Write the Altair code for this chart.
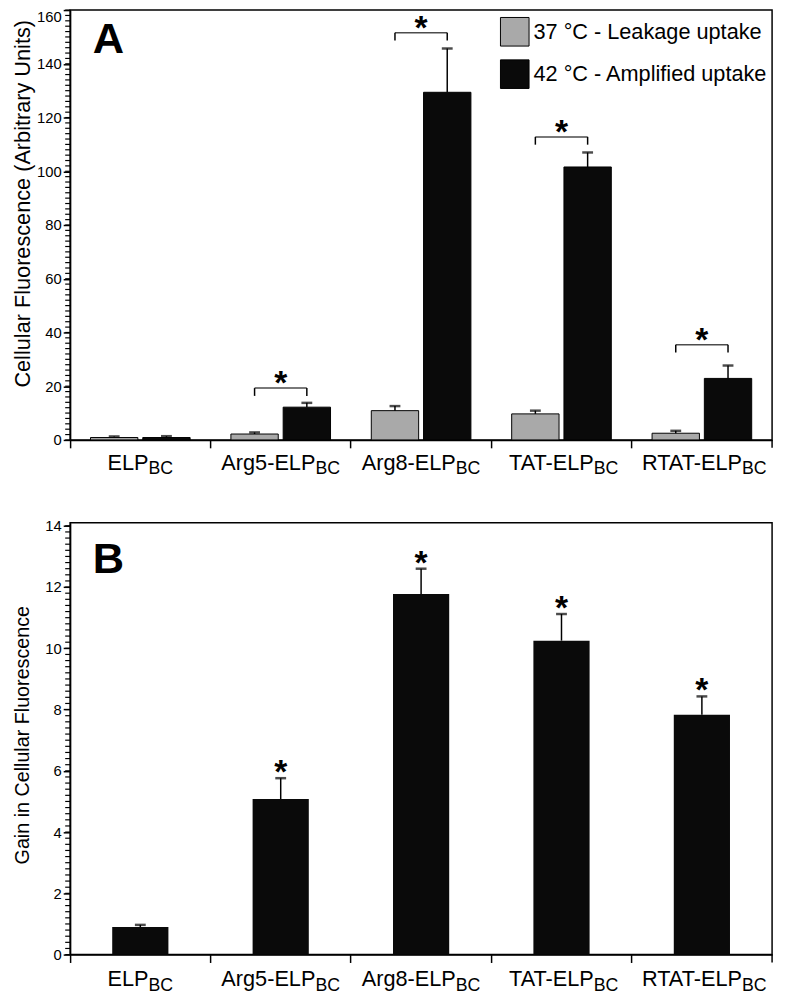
import altair as alt
import pandas as pd
import numpy as np

# ---------------- data ----------------
constructs = ["ELP", "Arg5-ELP", "Arg8-ELP", "TAT-ELP", "RTAT-ELP"]
label_main = ["ELP", "Arg5-ELP", "Arg8-ELP", "TAT-ELP", "RTAT-ELP"]
label_sub = ["BC", "BC", "BC", "BC", "BC"]
series = ["37 °C - Leakage uptake", "42 °C - Amplified uptake"]

uptake_37 = [0.9, 2.2, 10.9, 9.7, 2.5]
uptake_37_err = [0.4, 0.6, 1.7, 1.2, 0.9]
uptake_42 = [0.9, 12.2, 129.4, 101.6, 22.9]
uptake_42_err = [0.5, 1.6, 16.3, 5.4, 4.8]
sig_A = ["", "*", "*", "*", "*"]
bracket_A = [None, 19.3, 151.6, 112.8, 35.4]

gain = [0.90, 5.08, 11.77, 10.25, 7.83]
gain_err = [0.07, 0.68, 0.83, 0.87, 0.60]
sig_B = ["", "*", "*", "*", "*"]

ticks_A = [0, 20, 40, 60, 80, 100, 120, 140, 160]
ticks_B = [0, 2, 4, 6, 8, 10, 12, 14]

# ---------------- style ----------------
FONT = "Liberation Sans"
W = 712
HA = 436
HB = 438
GRAY = "#a9a9a9"
BLACK = "#0a0a0a"
MAIN_FS = 22
SUB_FS = 18

ARIAL = {'A': 667, 'r': 333, 'g': 556, '5': 556, '8': 556, '-': 333, 'E': 667,
         'L': 556, 'P': 667, 'T': 611, 'R': 722, 'B': 667, 'C': 722}


def text_w(s, size):
    return sum(ARIAL.get(ch, 556) for ch in s) / 1000 * size


def x_enc():
    return alt.X('construct:N', sort=constructs,
                 scale=alt.Scale(paddingInner=0, paddingOuter=0),
                 axis=alt.Axis(labels=False, title=None, ticks=True, tickSize=8,
                               bandPosition=0, domainWidth=1.5, tickWidth=1.5))


def y_axis(values, title, title_y, title_fs, flush_top=None):
    kw = {}
    if flush_top is not None:
        kw['labelBaseline'] = {"condition": {"test": f"datum.value == {flush_top}", "value": "top"},
                               "value": "middle"}
    return alt.Axis(values=values, title=title, titleFont=FONT, titleFontSize=title_fs,
                    titleFontWeight='normal', titleX=-48, titleY=title_y,
                    titleBaseline='middle', titleAngle=-90,
                    labelFont=FONT, labelFontSize=15, tickSize=7, labelPadding=2,
                    grid=False, **kw)


def minor_layer(vals, domain):
    df = pd.DataFrame({'m': vals})
    return alt.Chart(df).mark_rule(color='black', strokeWidth=1.2).encode(
        y=alt.Y('m:Q', scale=alt.Scale(domain=domain, nice=False)),
        x=alt.value(-5), x2=alt.value(0))


def label_layers(h, base_off, sub_off):
    layers = []
    for i, c in enumerate(constructs):
        wm = text_w(label_main[i], MAIN_FS)
        ws = text_w(label_sub[i], SUB_FS)
        shift = (wm - ws) / 2
        df = pd.DataFrame({'construct': [c], 'main': [label_main[i]], 'sub': [label_sub[i]]})
        layers.append(alt.Chart(df).mark_text(align='right', baseline='alphabetic', font=FONT,
                                              fontSize=MAIN_FS, dx=shift, color='black').encode(
            x=x_enc(), y=alt.value(h + base_off), text='main:N'))
        layers.append(alt.Chart(df).mark_text(align='left', baseline='alphabetic', font=FONT,
                                              fontSize=SUB_FS, dx=shift, color='black').encode(
            x=x_enc(), y=alt.value(h + sub_off), text='sub:N'))
    return layers


def end_tick(h):
    return alt.Chart(pd.DataFrame({'a': [0]})).mark_rule(color='black', strokeWidth=1.5).encode(
        x=alt.value(W), y=alt.value(h), y2=alt.value(h + 8))


def letter(t, y):
    return alt.Chart(pd.DataFrame({'t': [t]})).mark_text(
        align='left', baseline='alphabetic', font=FONT, fontSize=44, fontWeight='bold',
        color='black').encode(x=alt.value(23), y=alt.value(y), text='t:N')


# ---------------- panel A ----------------
rows = []
for i, c in enumerate(constructs):
    rows.append(dict(construct=c, series=series[0], value=uptake_37[i], top=uptake_37[i] + uptake_37_err[i]))
    rows.append(dict(construct=c, series=series[1], value=uptake_42[i], top=uptake_42[i] + uptake_42_err[i]))
dfA = pd.DataFrame(rows)

domA = [0, 160]
xoff = alt.XOffset('series:N', sort=series, scale=alt.Scale(paddingInner=0.094, paddingOuter=0.39))

barsA = alt.Chart(dfA).mark_bar(stroke='black', strokeWidth=1).encode(
    x=x_enc(), xOffset=xoff,
    y=alt.Y('value:Q', scale=alt.Scale(domain=domA, nice=False),
            axis=y_axis(ticks_A, "Cellular Fluorescence (Arbitrary Units)", 196, 22, flush_top=160)),
    color=alt.Color('series:N', sort=series,
                    scale=alt.Scale(domain=series, range=[GRAY, BLACK]),
                    legend=alt.Legend(title=None, orient='none', legendX=436, legendY=7,
                                      symbolType='square', symbolSize=841, symbolStrokeColor='black',
                                      symbolStrokeWidth=1, labelFont=FONT, labelFontSize=22,
                                      labelColor='black', rowPadding=9, labelOffset=4, padding=0,
                                      labelLimit=400)))

errA = alt.Chart(dfA).mark_rule(color='black', strokeWidth=1.5).encode(
    x=x_enc(), xOffset=xoff,
    y=alt.Y('value:Q', scale=alt.Scale(domain=domA, nice=False)), y2='top:Q')
capA = alt.Chart(dfA).mark_tick(color='black', thickness=2.5, size=11).encode(
    x=x_enc(), xOffset=xoff,
    y=alt.Y('top:Q', scale=alt.Scale(domain=domA, nice=False)))

brk = pd.DataFrame({'construct': [c for i, c in enumerate(constructs) if sig_A[i]],
                    'bracket': [bracket_A[i] for i in range(5) if sig_A[i]],
                    'star': [sig_A[i] for i in range(5) if sig_A[i]]})
brk_legs = pd.DataFrame([dict(construct=r.construct, series=s, bracket=r.bracket, low=r.bracket - 2.9)
                         for r in brk.itertuples() for s in series])

brkH = alt.Chart(brk).mark_tick(color='black', thickness=1.5, size=53).encode(
    x=x_enc(), y=alt.Y('bracket:Q', scale=alt.Scale(domain=domA, nice=False)))
brkL = alt.Chart(brk_legs).mark_rule(color='black', strokeWidth=1.5).encode(
    x=x_enc(), xOffset=xoff,
    y=alt.Y('bracket:Q', scale=alt.Scale(domain=domA, nice=False)), y2='low:Q')
starA = alt.Chart(brk).mark_text(font=FONT, fontSize=34, fontWeight='bold', baseline='middle',
                                 dy=-4, color='black').encode(
    x=x_enc(), y=alt.Y('bracket:Q', scale=alt.Scale(domain=domA, nice=False)), text='star:N')

minA = minor_layer(list(np.arange(0, 160.1, 2.0)), domA)

panelA = alt.layer(barsA, errA, capA, brkH, brkL, starA, minA, end_tick(HA), letter("A", 44),
                   *label_layers(HA, 30, 35)).properties(width=W, height=HA)

# ---------------- panel B ----------------
dfB = pd.DataFrame({'construct': constructs, 'value': gain,
                    'top': [g + e for g, e in zip(gain, gain_err)], 'star': sig_B})
domB = [0, 14.1]

barsB = alt.Chart(dfB).mark_bar(color=BLACK, width=57).encode(
    x=x_enc(),
    y=alt.Y('value:Q', scale=alt.Scale(domain=domB, nice=False),
            axis=y_axis(ticks_B, "Gain in Cellular Fluorescence", 215, 20)))
errB = alt.Chart(dfB).mark_rule(color='black', strokeWidth=1.5).encode(
    x=x_enc(), y=alt.Y('value:Q', scale=alt.Scale(domain=domB, nice=False)), y2='top:Q')
capB = alt.Chart(dfB).mark_tick(color='black', thickness=2.5, size=11).encode(
    x=x_enc(), y=alt.Y('top:Q', scale=alt.Scale(domain=domB, nice=False)))
starB = alt.Chart(dfB).mark_text(font=FONT, fontSize=34, fontWeight='bold', baseline='middle',
                                 dy=-5, color='black').encode(
    x=x_enc(), y=alt.Y('top:Q', scale=alt.Scale(domain=domB, nice=False)), text='star:N')
minB = minor_layer(list(np.round(np.arange(0, 14.01, 0.2), 2)), domB)

panelB = alt.layer(barsB, errB, capB, starB, minB, end_tick(HB), letter("B", 51),
                   *label_layers(HB, 32, 37)).properties(width=W, height=HB)

chart = alt.vconcat(panelA, panelB, spacing=39).properties(
    padding={"left": 3, "top": -7, "right": 4, "bottom": 0}
).configure_view(stroke='black', strokeWidth=1.5).configure_axis(
    domainColor='black', tickColor='black', labelColor='black', titleColor='black',
    domainWidth=1.5, tickWidth=1.5, grid=False)

chart.save("out.html", embed_options={"renderer": "svg", "actions": False})
